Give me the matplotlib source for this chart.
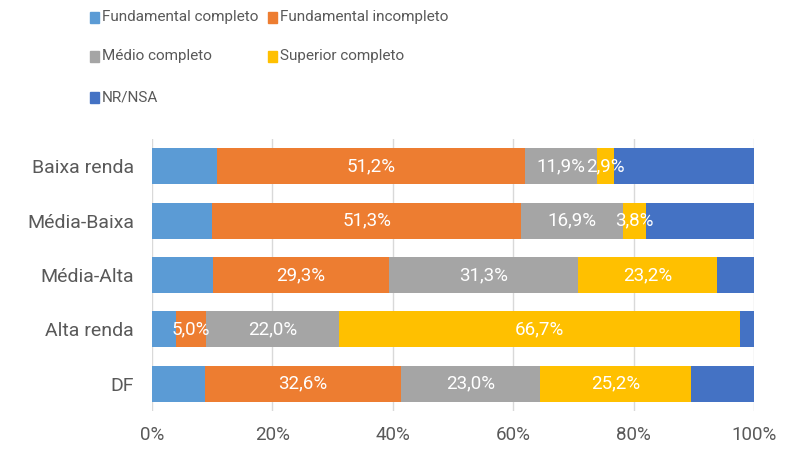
import matplotlib
matplotlib.use("Agg")
import matplotlib.pyplot as plt
from matplotlib.patches import Rectangle
import numpy as np

plt.rcParams['font.family'] = ['Roboto', 'DejaVu Sans']

categories = ["Baixa renda", "Média-Baixa", "Média-Alta", "Alta renda", "DF"]
series_names = ["Fundamental completo", "Fundamental incompleto", "Médio completo",
                "Superior completo", "NR/NSA"]
fund_completo = [10.8, 10.0, 10.1, 4.0, 8.8]
fund_incompleto = [51.2, 51.3, 29.3, 5.0, 32.6]
medio_completo = [11.9, 16.9, 31.3, 22.0, 23.0]
superior_completo = [2.9, 3.8, 23.2, 66.7, 25.2]
nr_nsa = [23.2, 18.0, 6.1, 2.3, 10.4]
labeled = [False, True, True, True, False]
xticks = [0, 20, 40, 60, 80, 100]
xtick_labels = ["0%", "20%", "40%", "60%", "80%", "100%"]

colors = ["#5B9BD5", "#ED7D31", "#A5A5A5", "#FFC000", "#4472C4"]
text_color = "#595959"

series = [fund_completo, fund_incompleto, medio_completo, superior_completo, nr_nsa]

fig = plt.figure(figsize=(8.02, 4.53), dpi=100)
ax = fig.add_axes([152/802, 1-411/453, (754-152)/802, (411-139)/453])

y = np.arange(len(categories))
left = np.zeros(len(categories))
for vals, col, lab in zip(series, colors, labeled):
    vals = np.array(vals)
    ax.barh(y, vals, left=left, height=0.66, color=col, zorder=2)
    if lab:
        for yi, (l, v) in enumerate(zip(left, vals)):
            ax.text(l + v/2, yi, f"{v:.1f}%".replace(".", ","), ha="center", va="center",
                    color="white", fontsize=13.5, zorder=3)
    left += vals

ax.set_xlim(0, 100)
ax.set_ylim(4.5, -0.5)
ax.set_yticks(y)
ax.set_yticklabels(categories, fontsize=14, color=text_color)
ax.set_xticks(xticks)
ax.set_xticklabels(xtick_labels, fontsize=13.5, color=text_color)
ax.tick_params(axis="x", length=0, pad=11)
ax.tick_params(axis="y", length=0, pad=13)
ax.grid(axis="x", color="#D9D9D9", linewidth=1, zorder=0)
for s in ax.spines.values():
    s.set_visible(False)

# legend
leg_pos = [(90, 17), (268, 17), (90, 56), (268, 56), (90, 97)]
for (px, py), name, col in zip(leg_pos, series_names, colors):
    fig.patches.append(Rectangle((px/802, 1-(py+6)/453), 9/802, 11/453,
                                 transform=fig.transFigure, color=col))
    fig.text((px+12)/802, 1-py/453, name, fontsize=11, color=text_color,
             ha="left", va="center")

fig.savefig("out.png", dpi=100)
